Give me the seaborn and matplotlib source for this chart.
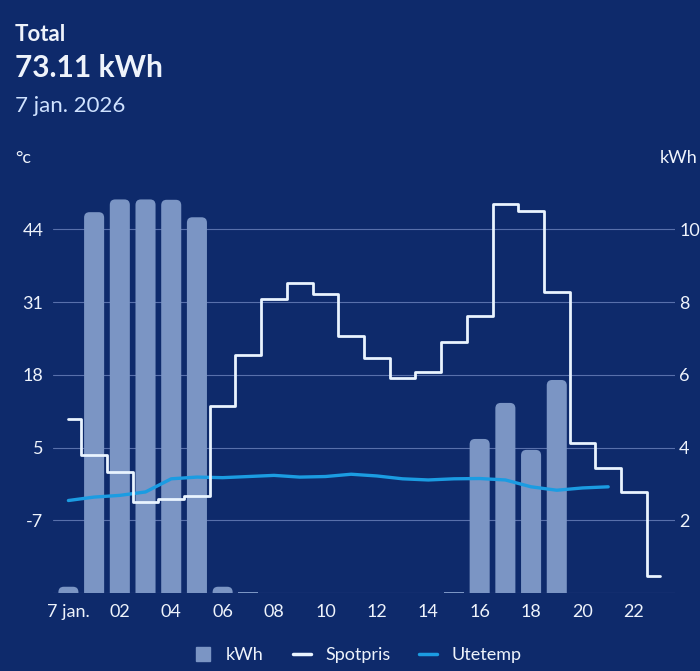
import matplotlib
matplotlib.use("Agg")
import matplotlib.pyplot as plt
from matplotlib.lines import Line2D
from matplotlib.patches import FancyBboxPatch
import pandas as pd
import seaborn as sns

# hourly data, 7 jan. 2026
hours = list(range(24))
kwh = [0.18, 10.47, 10.82, 10.82, 10.81, 10.33, 0.18, 0.03, 0.02, 0.0, 0.0, 0.02,
       0.02, 0.02, 0.02, 0.03, 4.24, 5.23, 3.94, 5.86, 0.0, 0.0, 0.0, 0.0]
spotpris = [4.79, 3.80, 3.34, 2.52, 2.59, 2.68, 5.15, 6.55, 8.09, 8.53, 8.22, 7.07,
            6.47, 5.92, 6.07, 6.90, 7.62, 10.69, 10.50, 8.29, 4.12, 3.43, 2.79, 0.48]
temp_hours = list(range(22))
utetemp = [-3.5, -2.9, -2.6, -2.0, 0.3, 0.6, 0.5, 0.7, 0.9, 0.6, 0.7, 1.1,
           0.8, 0.3, 0.1, 0.3, 0.35, 0.1, -1.1, -1.7, -1.3, -1.1]

xtick_pos = list(range(0, 24, 2))
xtick_labels = ["7 jan.", "02", "04", "06", "08", "10", "12", "14", "16", "18", "20", "22"]
kwh_ticks = [0, 2, 4, 6, 8, 10]
kwh_tick_labels = ["", "2", "4", "6", "8", "10"]
temp_tick_labels = ["", "-7", "5", "18", "31", "44"]

BG = "#0e2a6b"
BAR = "#7b95c4"
GRID = "#5870ab"
SPOT = "#e9f4ff"
TEMP = "#1b9ce2"
TXT = "#eef3fb"
SUB = "#cfe2ff"

sns.set_theme(style="white")
plt.rcParams["font.family"] = ["Lato", "DejaVu Sans"]

df = pd.DataFrame({"hour": hours, "kwh": kwh, "spot": spotpris})
tdf = pd.DataFrame({"hour": temp_hours, "temp": utetemp})

fig = plt.figure(figsize=(7, 6.71), dpi=100, facecolor=BG)
ax_t = fig.add_axes([0.0757, 0.1158, 0.8886, 0.6076])
ax_k = ax_t.twinx()
ax_s = ax_t.twinx()
ax_k.set_zorder(0)
ax_t.set_zorder(1)
ax_s.set_zorder(2)
ax_k.patch.set_visible(True)
ax_k.patch.set_facecolor(BG)
ax_t.patch.set_visible(False)

# kWh bars (right axis)
sns.barplot(data=df, x="hour", y="kwh", order=hours, ax=ax_k, color=BAR,
            width=0.78, saturation=1, edgecolor="none")
ymax = 11.2
ax_k.set_ylim(0, ymax)
ax_k.set_xlim(-0.6, 23.6)

# round the bar tops
ry = 0.15
for p in list(ax_k.patches):
    h = p.get_height()
    if h < 0.1:
        continue
    fb = FancyBboxPatch((p.get_x(), -ry), p.get_width(), h + ry,
                        boxstyle="round,pad=0,rounding_size=0.21",
                        mutation_aspect=0.72, fc=BAR, ec="none")
    p.remove()
    ax_k.add_patch(fb)

ax_k.set_yticks(kwh_ticks, labels=kwh_tick_labels)
ax_k.grid(axis="y", color=GRID, lw=0.8)
ax_k.grid(axis="x", visible=False)
ax_k.set_axisbelow(True)
ax_k.set_ylabel("")
ax_k.set_xlabel("")

# temperature (left axis), linked to the kWh gridlines
ax_t.set_ylim(6.375 * 0 - 19.75, 6.375 * ymax - 19.75)
ax_t.set_yticks([6.375 * k - 19.75 for k in kwh_ticks], labels=temp_tick_labels)
sns.lineplot(data=tdf, x="hour", y="temp", ax=ax_t, color=TEMP, lw=2.4)

# spot price (hidden axis)
sns.lineplot(data=df, x="hour", y="spot", ax=ax_s, color=SPOT, lw=2.0,
             drawstyle="steps-mid")
ax_s.set_ylim(0, ymax)
ax_s.set_yticks([])
ax_s.set_ylabel("")

ax_t.set_xlim(-0.6, 23.6)
ax_t.set_xticks(xtick_pos, labels=xtick_labels)
ax_t.set_xlabel("")
ax_t.set_ylabel("")

for a in (ax_t, ax_k, ax_s):
    for s in a.spines.values():
        s.set_visible(False)
    a.tick_params(length=0, colors=TXT, labelsize=13)
ax_t.tick_params(axis="y", pad=7)
ax_k.tick_params(axis="y", pad=3)
ax_t.tick_params(axis="x", pad=8)

# header texts
fig.text(15 / 700, 1 - 41 / 671, "Total", color=TXT, fontsize=16, fontweight="bold")
fig.text(15 / 700, 1 - 77 / 671, "73.11 kWh", color=TXT, fontsize=21.5, fontweight="bold")
fig.text(15 / 700, 1 - 112 / 671, "7 jan. 2026", color=SUB, fontsize=16)
fig.text(15 / 700, 1 - 163 / 671, "°c", color=TXT, fontsize=13)
fig.text(660 / 700, 1 - 163 / 671, "kWh", color=TXT, fontsize=13)

handles = [
    Line2D([], [], marker="s", markersize=10, linestyle="", color=BAR),
    Line2D([], [], color=SPOT, lw=2.5),
    Line2D([], [], color=TEMP, lw=2.5),
]
leg = fig.legend(handles, ["kWh", "Spotpris", "Utetemp"], loc="center",
                 bbox_to_anchor=(0.511, 1 - 655 / 671), ncol=3, frameon=False,
                 fontsize=13, handlelength=1.0, handletextpad=0.8,
                 columnspacing=1.6)
for t in leg.get_texts():
    t.set_color(TXT)

fig.savefig("out.png", dpi=100, facecolor=BG)
